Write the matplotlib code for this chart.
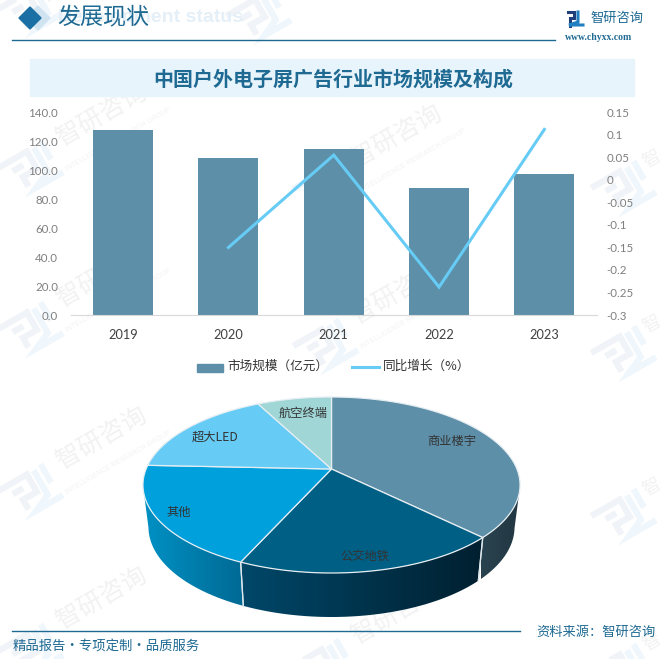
import numpy as np
import matplotlib
matplotlib.use("Agg")
import matplotlib.pyplot as plt
from matplotlib.patches import Polygon, Rectangle

plt.rcParams['font.family'] = ['Noto Sans CJK SC', 'DejaVu Sans']

# bar + line data
years = ['2019', '2020', '2021', '2022', '2023']
market_size = [127.8, 108.4, 114.6, 87.7, 97.4]
growth_years = [1, 2, 3, 4]
growth = [-0.15, 0.055, -0.238, 0.112]

left_ticks = [0, 20, 40, 60, 80, 100, 120, 140]
right_ticks = [-0.3, -0.25, -0.2, -0.15, -0.1, -0.05, 0, 0.05, 0.1, 0.15]
right_labels = ['-0.3', '-0.25', '-0.2', '-0.15', '-0.1', '-0.05', '0', '0.05', '0.1', '0.15']

# pie data, clockwise from the top
pie_names = ['商业楼宇', '公交地铁', '其他', '超大LED', '航空终端']
pie_shares = [37.4, 19.3, 19.0, 16.7, 7.6]
pie_colors = ['#5d8fa8', '#005f85', '#00a0dc', '#66ccf5', '#a0d6d6']
wall_colors = [('#2a4350', '#213641'), ('#00486a', '#001f2f'), ('#0092c6', '#006a94'),
               ('#66ccf5', '#66ccf5'), ('#a0d6d6', '#a0d6d6')]
label_pos = [(452, 442), (365, 556), (179, 512), (215, 437), (303, 413)]

W, H = 663, 659
fig = plt.figure(figsize=(W / 100, H / 100), dpi=100)

# full figure axes in pixel units for decoration and the 3d pie
bg = fig.add_axes([0, 0, 1, 1])
bg.set_xlim(0, W)
bg.set_ylim(H, 0)
bg.axis('off')


def rotated(pts, cx, cy, deg=-30):
    a = np.radians(deg)
    pts = np.array(pts, dtype=float)
    x = pts[:, 0] * np.cos(a) - pts[:, 1] * np.sin(a)
    y = pts[:, 0] * np.sin(a) + pts[:, 1] * np.cos(a)
    return x + cx, y + cy


def watermark(cx, cy):
    c1, c2 = '#f0f3f7', '#eff7fc'
    for pts, col in [
        ([(-28, -15), (5, -15), (5, 5), (-11, 5), (-11, 16)], c1),
        ([(-17, -5), (-5, -5)], c1),
        ([(13, -15), (13, 13), (-5, 21), (26, 21)], c2),
        ([(22, -17), (22, 4)], c2),
    ]:
        x, y = rotated(pts, cx, cy)
        bg.plot(x, y, color=col, lw=4.5, solid_capstyle='butt', solid_joinstyle='miter', zorder=0)
    if cx > 600:
        bg.text(cx + 29, cy - 28, '智', fontsize=13, color='#f2f2f2', rotation=30,
                ha='center', va='center', zorder=0)
        return
    if cy < 85:
        return
    bg.text(cx + 72, cy - 52, '智研咨询', fontsize=18, color='#f2f2f2', rotation=30,
            ha='center', va='center', zorder=0)
    if cy < 650:
        bg.text(cx + 88, cy - 27, 'INTELLIGENCE RESEARCH GROUP', fontsize=5, color='#f3f3f3',
                rotation=30, ha='center', va='center', zorder=0, family='Liberation Sans')


for cx, cy in [(30, 8), (30, 167), (30, 328), (30, 490), (30, 650),
               (325, 188), (325, 345), (325, 505), (325, 665), (258, 15),
               (623, 187), (623, 352), (623, 515), (623, 670)]:
    watermark(cx, cy)

# header
bg.text(58, 18, 'Development status', fontsize=14, color='#e4eff7', fontweight='bold',
        family='Liberation Sans', va='center', zorder=1)
bg.add_patch(Polygon([(38, 6), (50, 18), (38, 30), (26, 18)], color='#cfe3f0', zorder=1))
bg.add_patch(Polygon([(30, 7), (41, 18), (30, 29), (19, 18)], color='#1a6fa5', zorder=2))
bg.text(57, 18, '发展现状', fontsize=16.6, color='#1f6a93', va='center', zorder=2)
bg.plot([12, 555], [39.5, 39.5], color='#1f6a93', lw=1, zorder=2)

# small brand mark
bg.plot([568, 574, 574, 570, 570], [12, 12, 18, 18, 26], color='#1e3f7a', lw=2.2,
        solid_joinstyle='miter', zorder=2)
bg.plot([578, 578, 569, 583], [12, 22, 25, 25], color='#1f7fc0', lw=2.2,
        solid_joinstyle='miter', zorder=2)
bg.text(590, 18, '智研咨询', fontsize=9.5, color='#1f6a93', va='center', zorder=2)
bg.text(565, 38, 'www.chyxx.com', fontsize=7, color='#1f6a93', va='center',
        family='Liberation Serif', fontweight='bold', zorder=2)

# title band
bg.add_patch(Rectangle((30, 59), 604, 37, color='#e8f4fb', zorder=1))
bg.text(333, 79.5, '中国户外电子屏广告行业市场规模及构成', fontsize=14.4, color='#1f6a93',
        fontweight='bold', ha='center', va='center', zorder=2)

# footer
bg.plot([12, 520], [631, 631], color='#1f6a93', lw=1, zorder=2)
bg.text(536, 632, '资料来源：智研咨询', fontsize=9.5, color='#1f6a93', va='center', zorder=2)
bg.text(13, 646, '精品报告·专项定制·品质服务', fontsize=9.6, color='#1f6a93', va='center', zorder=2)

# 3d pie: circle pushed through a perspective map
k, A, B = 0.1818, 85.09, 185.4
ax0, ay0 = 331.5, 469.0


def project(theta):
    x, y = np.sin(theta), np.cos(theta)
    w = 1 + k * y
    return ax0 + B * x / w, ay0 - A * y / w


def drop(px, py):
    # same rim point on the lower ellipse
    return ax0 + (px - ax0) * 183 / 188.5, 527 + (py - 485) * 90 / 88


edges = np.radians(np.cumsum([0] + pie_shares) * 360 / sum(pie_shares))

# side walls first
for i in range(len(pie_shares)):
    t = np.linspace(edges[i], edges[i + 1], 150)
    px, py = project(t)
    keep = py >= 485
    if keep.sum() < 2:
        continue
    px, py = px[keep], py[keep]
    qx, qy = drop(px, py)
    poly = np.column_stack([np.r_[px, qx[::-1]], np.r_[py, qy[::-1]]])
    patch = Polygon(poly, closed=True, fc='none', ec='none', zorder=3)
    bg.add_patch(patch)
    c0 = np.array(matplotlib.colors.to_rgb(wall_colors[i][0]))
    c1 = np.array(matplotlib.colors.to_rgb(wall_colors[i][1]))
    fr = np.linspace(0, 1, 256)[None, :, None]
    grad = c0 + (c1 - c0) * fr
    extent = [px.min() - 2, px.max() + 2, poly[:, 1].max(), poly[:, 1].min()]
    im = bg.imshow(grad, extent=extent, aspect='auto', zorder=3, interpolation='bilinear')
    im.set_clip_path(patch)
    # seam between walls
    for j in (0, -1):
        if abs(py[j] - 485) > 3:
            bg.plot([px[j], qx[j]], [py[j], qy[j]], color='#dfe8ec', lw=0.9, zorder=4)

bg.set_xlim(0, W)
bg.set_ylim(H, 0)

# top faces
for i in range(len(pie_shares)):
    t = np.linspace(edges[i], edges[i + 1], 120)
    px, py = project(t)
    poly = np.column_stack([np.r_[ax0, px], np.r_[ay0, py]])
    bg.add_patch(Polygon(poly, closed=True, fc=pie_colors[i], ec='#e6eef2', lw=0.9, zorder=5))
    bg.text(label_pos[i][0], label_pos[i][1], pie_names[i], fontsize=8.8, color='#333333',
            ha='center', va='center', zorder=6)

# bar + line chart
ax = fig.add_axes([70.5 / W, 1 - 315 / H, 526.5 / W, 202.7 / H])
ax.patch.set_alpha(0)
x = np.arange(len(years))
ax.bar(x, market_size, width=0.57, color='#5d8fa8', label='市场规模（亿元）')
ax.set_xlim(-0.5, 4.5)
ax.set_ylim(0, 140)
ax.set_yticks(left_ticks)
ax.set_yticklabels(['%.1f' % v for v in left_ticks], family='Lato', fontsize=8.3, color='#7f7f7f')
ax.set_xticks(x)
ax.set_xticklabels(years, family='Lato', fontsize=9.2, color='#404040')
ax.tick_params(length=0)
ax.tick_params(axis='x', pad=10)
ax.tick_params(axis='y', pad=9)
for s in ['top', 'left', 'right']:
    ax.spines[s].set_visible(False)
ax.spines['bottom'].set_color('#d9d9d9')

ax2 = ax.twinx()
ax2.patch.set_alpha(0)
ax2.plot(growth_years, growth, color='#66ccf5', lw=2.2, label='同比增长（%）', solid_joinstyle='miter')
ax2.set_ylim(-0.3, 0.15)
ax2.set_yticks(right_ticks)
ax2.set_yticklabels(right_labels, family='Lato', fontsize=8.3, color='#7f7f7f')
ax2.tick_params(length=0, pad=7)
for s in ['top', 'left', 'right', 'bottom']:
    ax2.spines[s].set_visible(False)

# legend drawn by hand so it sits where the reference has it
bg.add_patch(Rectangle((197, 364), 26, 8, color='#5d8fa8', zorder=2))
bg.text(227, 366.5, '市场规模（亿元）', fontsize=9.1, color='#333333', va='center', zorder=2)
bg.plot([352, 379], [367, 367], color='#66ccf5', lw=2.2, zorder=2)
bg.text(383, 366.5, '同比增长（%）', fontsize=9.1, color='#333333', va='center', zorder=2)

fig.savefig('out.png', dpi=100)
